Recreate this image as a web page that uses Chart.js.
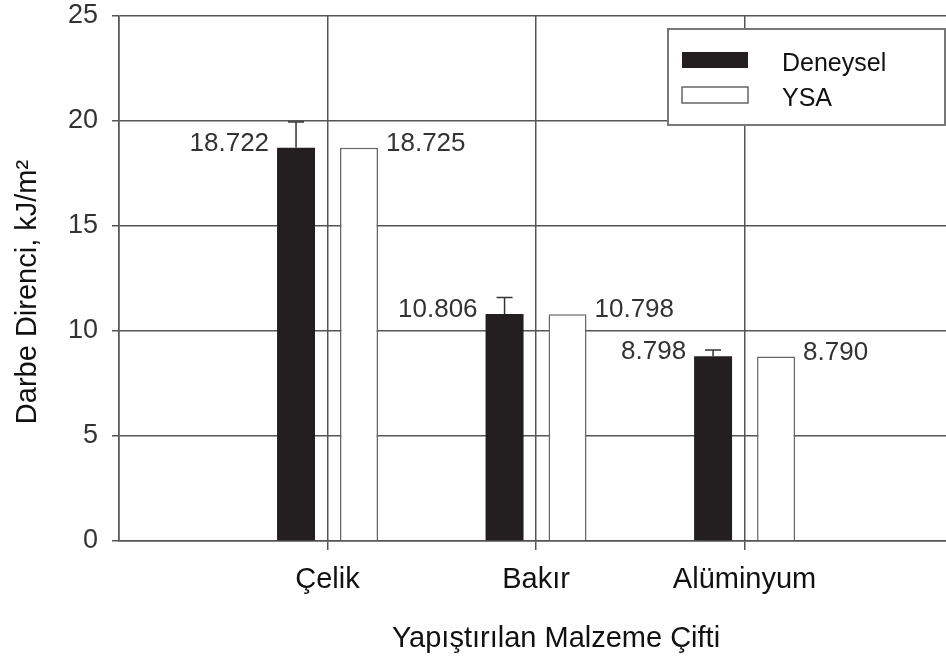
<!DOCTYPE html>
<html>
<head>
<meta charset="utf-8">
<script src="https://cdn.jsdelivr.net/npm/chart.js@4.4.1/dist/chart.umd.min.js"></script>
<style>
  html, body { margin: 0; padding: 0; background: #fff; overflow: hidden; }
  canvas { display: block; }
</style>
</head>
<body>
<canvas id="chart" width="946" height="656"></canvas>
<script>
// Darbe direnci: deneysel ölçümler ve YSA tahminleri
const categories = ['Çelik', 'Bakır', 'Alüminyum'];
const seriesNames = ['Deneysel', 'YSA'];
const deneysel = [18.722, 10.806, 8.798];
const ysa = [18.725, 10.798, 8.790];
const deneyselUpper = [19.95, 11.6, 9.1];   // hata çubuğu üst sınırı
const yMin = 0, yMax = 25, yStep = 5;
const xMin = 0, xMax = 3.966;              // kategori konumları 1, 2, 3

const FONT = "'Liberation Sans', Arial, Helvetica, sans-serif";
const GRID = '#555';

const toPoints = vals => vals.map((v, i) => ({ x: i + 1, y: v }));

const errorBars = {
  id: 'errorBars',
  afterDatasetsDraw(chart) {
    const meta = chart.getDatasetMeta(0);
    const y = chart.scales.y;
    const ctx = chart.ctx;
    ctx.save();
    ctx.strokeStyle = '#333';
    ctx.lineWidth = 1.5;
    meta.data.forEach((bar, i) => {
      const top = y.getPixelForValue(deneyselUpper[i]);
      ctx.beginPath();
      ctx.moveTo(bar.x, bar.y);
      ctx.lineTo(bar.x, top);
      ctx.moveTo(bar.x - 8, top);
      ctx.lineTo(bar.x + 8, top);
      ctx.stroke();
    });
    ctx.restore();
  }
};

const valueLabels = {
  id: 'valueLabels',
  afterDatasetsDraw(chart) {
    const ctx = chart.ctx;
    ctx.save();
    ctx.font = `26px ${FONT}`;
    ctx.fillStyle = '#333';
    ctx.textBaseline = 'middle';
    chart.data.datasets.forEach((ds, di) => {
      const meta = chart.getDatasetMeta(di);
      meta.data.forEach((bar, i) => {
        const txt = ds.data[i].y.toFixed(3);
        const half = bar.width / 2;
        if (di === 0) {
          ctx.textAlign = 'right';
          ctx.fillText(txt, bar.x - half - 8, bar.y - 4);
        } else {
          ctx.textAlign = 'left';
          ctx.fillText(txt, bar.x + half + 8, bar.y - 4);
        }
      });
    });
    ctx.restore();
  }
};

const axisTitles = {
  id: 'axisTitles',
  afterDraw(chart) {
    const ctx = chart.ctx;
    ctx.save();
    ctx.fillStyle = '#111';
    ctx.font = `29px ${FONT}`;
    ctx.textAlign = 'center';
    ctx.textBaseline = 'alphabetic';
    ctx.fillText('Yapıştırılan Malzeme Çifti', 556, 647);
    ctx.translate(36, 292);
    ctx.rotate(-Math.PI / 2);
    ctx.fillText('Darbe Direnci, kJ/m²', 0, 0);
    ctx.restore();
  }
};

const legendBox = {
  id: 'legendBox',
  afterDraw(chart) {
    const ctx = chart.ctx;
    const ds = chart.data.datasets;
    ctx.save();
    ctx.fillStyle = '#fff';
    ctx.fillRect(668, 29, 277, 96);
    ctx.strokeStyle = '#777';
    ctx.lineWidth = 2;
    ctx.strokeRect(668, 29, 277, 96);
    const rows = [60, 95];
    ds.forEach((d, i) => {
      ctx.fillStyle = d.backgroundColor;
      ctx.fillRect(682, rows[i] - 8, 66, 16);
      if (d.borderWidth) {
        ctx.strokeStyle = d.borderColor;
        ctx.lineWidth = 1.5;
        ctx.strokeRect(682, rows[i] - 8, 66, 16);
      }
      ctx.fillStyle = '#111';
      ctx.font = `25px ${FONT}`;
      ctx.textAlign = 'left';
      ctx.textBaseline = 'alphabetic';
      ctx.fillText(d.label, 782, rows[i] + 11);
    });
    ctx.restore();
  }
};

new Chart(document.getElementById('chart'), {
  type: 'bar',
  data: {
    datasets: [
      {
        label: seriesNames[0],
        data: toPoints(deneysel),
        backgroundColor: '#231f20',
        borderWidth: 0,
        categoryPercentage: 0.604,
        barPercentage: 0.603
      },
      {
        label: seriesNames[1],
        data: toPoints(ysa),
        backgroundColor: '#ffffff',
        borderColor: '#666',
        borderWidth: 1.5,
        categoryPercentage: 0.604,
        barPercentage: 0.603
      }
    ]
  },
  options: {
    responsive: false,
    animation: false,
    devicePixelRatio: 1,
    layout: { padding: { top: 16, left: 0, right: 0, bottom: 0 } },
    plugins: { legend: { display: false }, tooltip: { enabled: false } },
    scales: {
      x: {
        type: 'linear',
        min: xMin,
        max: xMax,
        offset: false,
        afterFit(s) { s.height = 115; s.paddingLeft = 0; s.paddingRight = 0; },
        grid: {
          offset: false,
          color: GRID,
          lineWidth: 1.5,
          tickLength: 9,
          tickColor: c => (c.tick && c.tick.value === 0) ? 'rgba(0,0,0,0)' : GRID
        },
        border: { display: true, color: GRID, width: 1.5 },
        ticks: {
          stepSize: 1,
          includeBounds: false,
          autoSkip: false,
          maxRotation: 0,
          padding: 13,
          color: '#111',
          font: { family: FONT, size: 29 },
          callback: v => categories[v - 1] ?? ''
        }
      },
      y: {
        min: yMin,
        max: yMax,
        afterFit(s) { s.width = 119; s.paddingTop = 0; s.paddingBottom = 0; },
        grid: { color: GRID, lineWidth: 1.5, tickLength: 7 },
        border: { display: true, color: GRID, width: 1.5 },
        ticks: {
          stepSize: yStep,
          padding: 14,
          color: '#333',
          font: { family: FONT, size: 27 }
        }
      }
    }
  },
  plugins: [errorBars, valueLabels, axisTitles, legendBox]
});
</script>
</body>
</html>
